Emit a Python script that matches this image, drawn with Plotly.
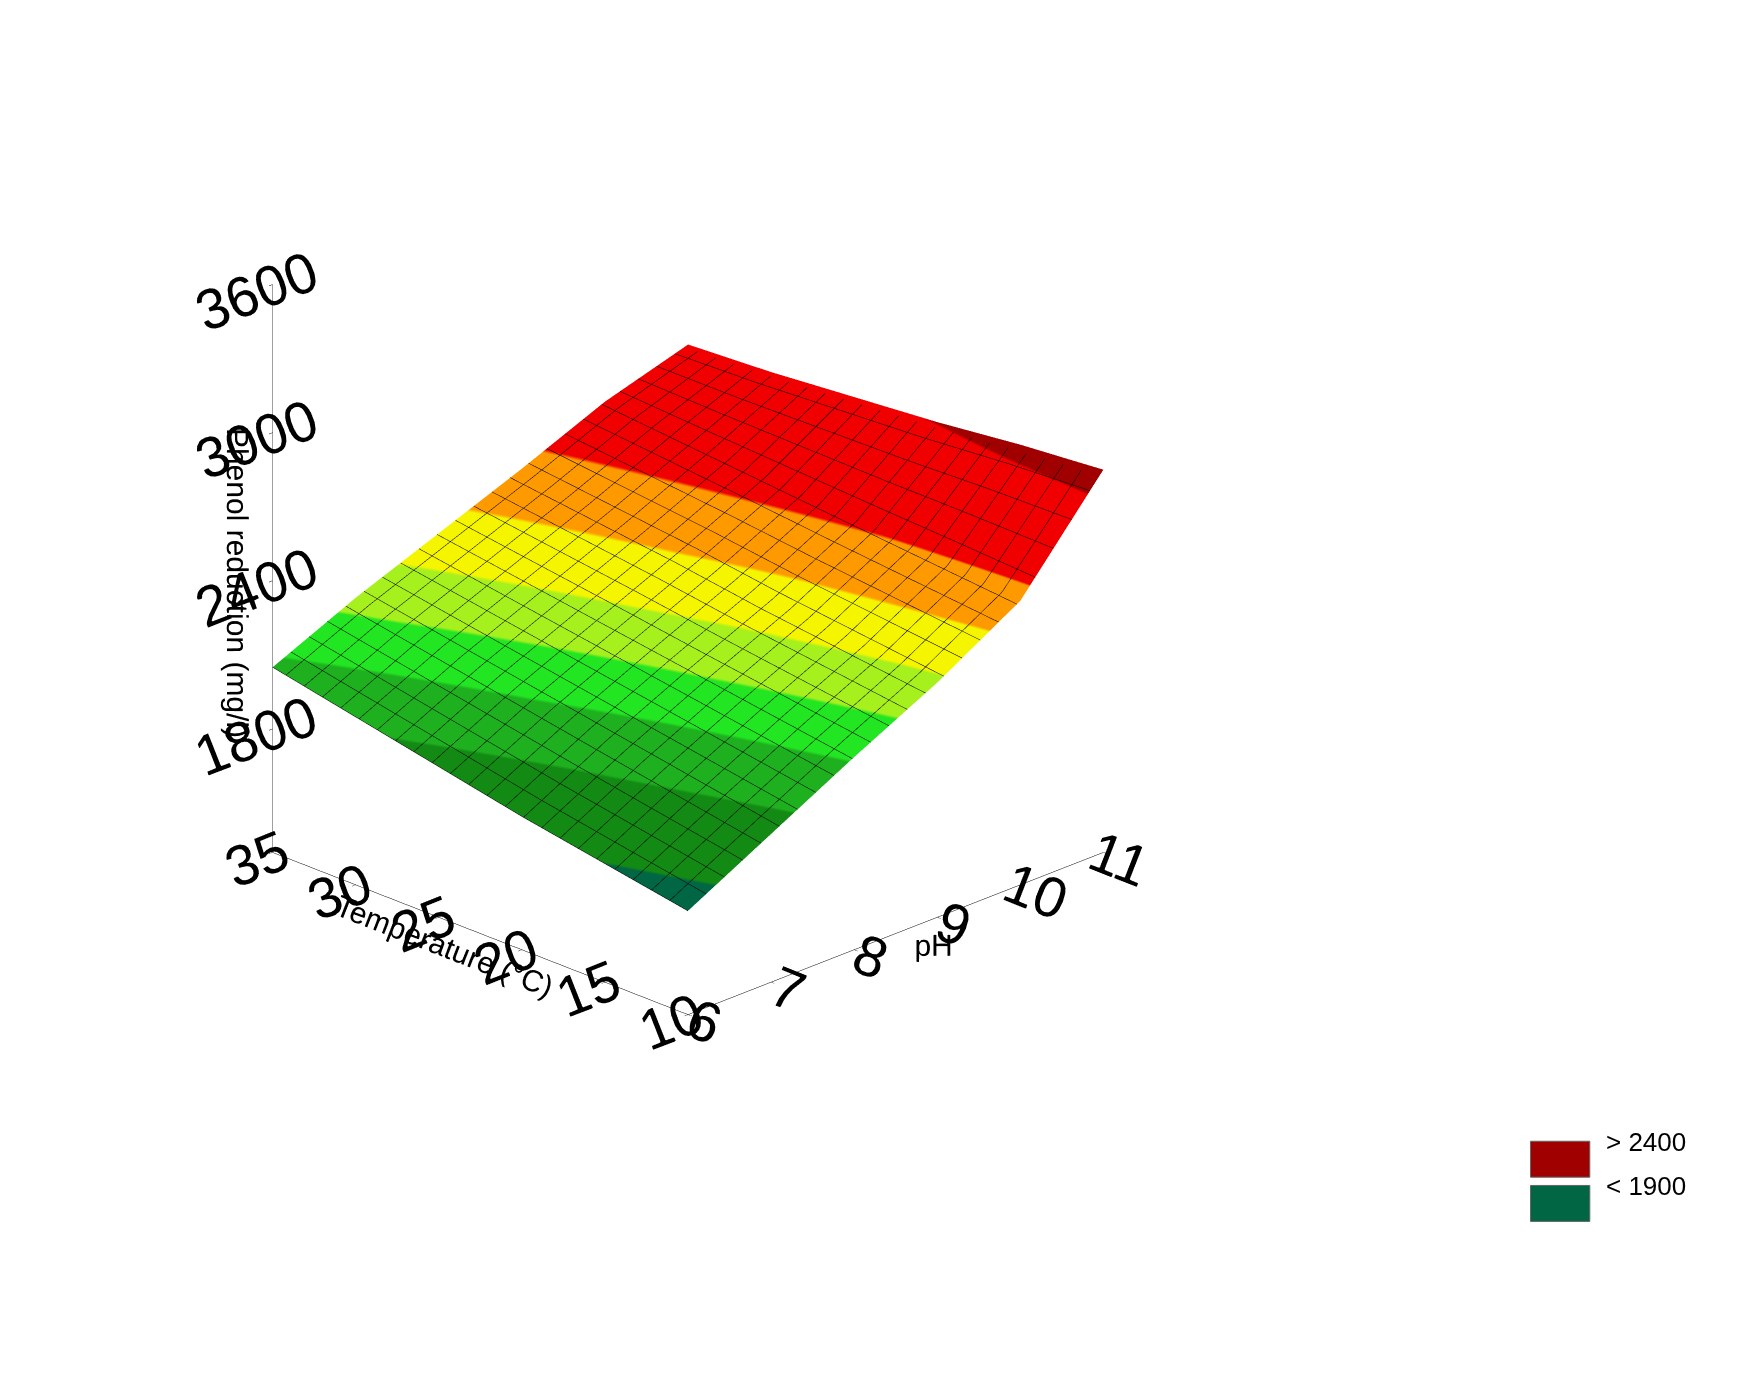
import plotly.graph_objects as go

ph = [6, 7, 8, 9, 10, 11]
temperature = [10, 15, 20, 25, 30, 35]
# rows: temperature, cols: pH  (Phenol reduction mg/l)
z_values = [
    [1720, 1900, 2080, 2250, 2450, 2850],
    [1780, 1960, 2130, 2290, 2480, 2820],
    [1840, 2020, 2180, 2330, 2510, 2780],
    [1910, 2080, 2230, 2380, 2540, 2750],
    [1980, 2140, 2280, 2420, 2570, 2720],
    [2050, 2200, 2330, 2460, 2600, 2700],
]
band_edges = [1600, 1780, 1950, 2070, 2170, 2270, 2380, 2500, 2780, 3000]
band_colors = ["#006644", "#138a13", "#1fb01f", "#22e622", "#a6f01e",
               "#f5f500", "#ff9900", "#f00000", "#a00000"]
z_ticks = [1800, 2400, 3000, 3600]
legend_labels = ["> 2400", "< 1900"]

cmin, cmax = band_edges[0], band_edges[-1]
cs = []
for i, c in enumerate(band_colors):
    a = (band_edges[i] - cmin) / (cmax - cmin)
    b = (band_edges[i + 1] - cmin) / (cmax - cmin)
    cs.append([a, c]); cs.append([b, c])

fig = go.Figure(go.Surface(
    x=ph, y=temperature, z=z_values, surfacecolor=z_values,
    colorscale=cs, cmin=cmin, cmax=cmax, showscale=False,
    lighting=dict(ambient=1, diffuse=0, specular=0, roughness=1, fresnel=0),
    contours=dict(
        x=dict(show=True, start=6, end=11, size=0.22, color="black", width=1),
        y=dict(show=True, start=10, end=35, size=1.1, color="black", width=1),
    ),
))

axfont = dict(family="Liberation Sans", size=30, color="black")
common = dict(showbackground=False, showgrid=False, linecolor="black",
              showline=True, ticks="outside", tickcolor="black",
              tickfont=dict(family="Liberation Sans", size=26, color="black"),
              zeroline=False, showspikes=False)
fig.update_layout(
    width=1744, height=1382, paper_bgcolor="white",
    margin=dict(l=0, r=0, t=0, b=0),
    scene=dict(
        domain=dict(x=[0.0, 0.78], y=[0.15, 1.0]),
        xaxis=dict(title=dict(text="pH", font=axfont), range=[6, 11],
                   tickvals=ph, **common),
        yaxis=dict(title=dict(text="Temperature (°C)", font=axfont), range=[10, 35],
                   tickvals=temperature, **common),
        zaxis=dict(title=dict(text="Phenol reduction (mg/l)", font=axfont),
                   range=[1300, 3600], tickvals=z_ticks, **common),
        aspectmode="manual", aspectratio=dict(x=1, y=1, z=1.05),
        camera=dict(eye=dict(x=-1.5, y=-1.5, z=0.85), center=dict(x=0, y=0, z=-0.05),
                    projection=dict(type="orthographic")),
    ),
)
for i, (lab, col) in enumerate(zip(legend_labels, [band_colors[-1], band_colors[0]])):
    y0 = 0.18 - i * 0.032
    fig.add_shape(type="rect", xref="paper", yref="paper",
                  x0=0.873, x1=0.907, y0=y0 - 0.026, y1=y0,
                  fillcolor=col, line=dict(color="#666666", width=1))
    fig.add_annotation(xref="paper", yref="paper", x=0.915, y=y0 - 0.013,
                       text=lab, showarrow=False, xanchor="left",
                       font=dict(family="Liberation Sans", size=26, color="black"))

fig.write_html("out.html")
